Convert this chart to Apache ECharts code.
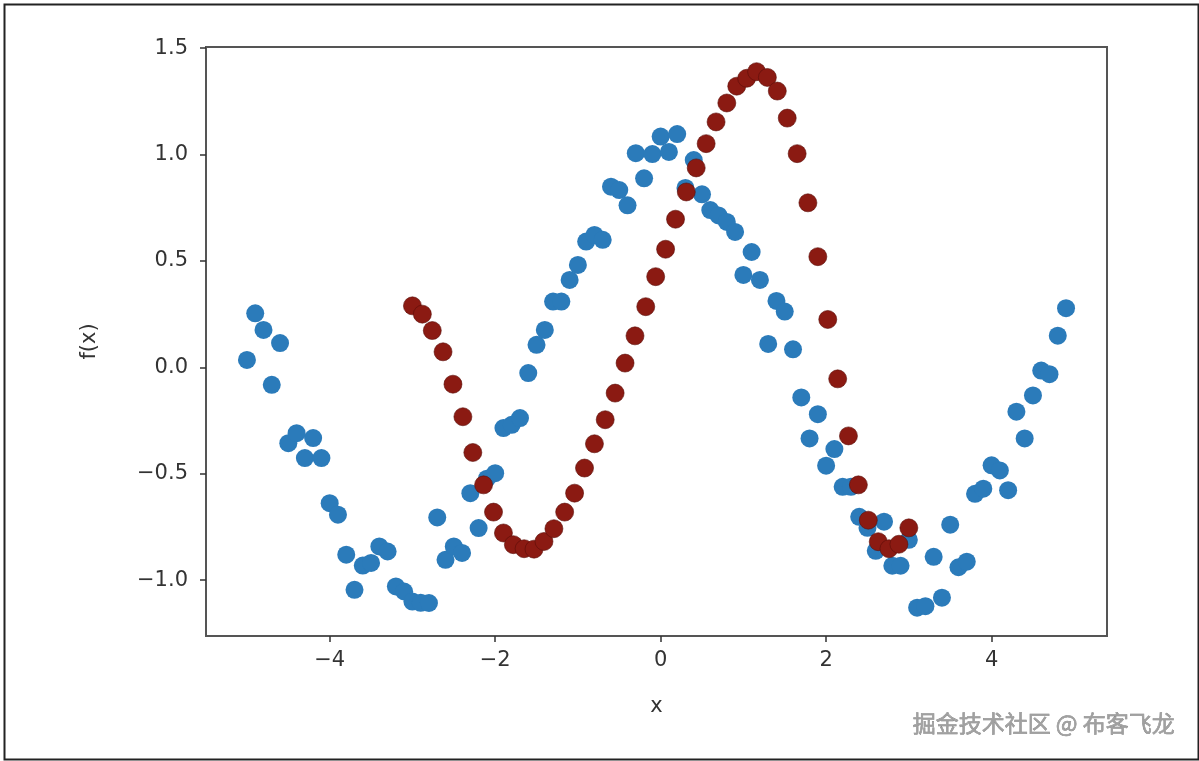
<!DOCTYPE html>
<html>
<head>
<meta charset="utf-8">
<script src="https://cdn.jsdelivr.net/npm/echarts@6/dist/echarts.min.js"></script>
<style>
  html, body { margin: 0; padding: 0; background: #fff; }
  #chart { width: 1199px; height: 761px; }
</style>
</head>
<body>
<div id="chart"></div>
<script>
// Noisy samples (blue)
const blueX = [-5.0,-4.9,-4.8,-4.7,-4.6,-4.5,-4.4,-4.3,-4.2,-4.1,
  -4.0,-3.9,-3.8,-3.7,-3.6,-3.5,-3.4,-3.3,-3.2,-3.1,
  -3.0,-2.9,-2.8,-2.7,-2.6,-2.5,-2.4,-2.3,-2.2,-2.1,
  -2.0,-1.9,-1.8,-1.7,-1.6,-1.5,-1.4,-1.3,-1.2,-1.1,
  -1.0,-0.9,-0.8,-0.7,-0.6,-0.5,-0.4,-0.3,-0.2,-0.1,
  0.0,0.1,0.2,0.3,0.4,0.5,0.6,0.7,0.8,0.9,
  1.0,1.1,1.2,1.3,1.4,1.5,1.6,1.7,1.8,1.9,
  2.0,2.1,2.2,2.3,2.4,2.5,2.6,2.7,2.8,2.9,
  3.0,3.1,3.2,3.3,3.4,3.5,3.6,3.7,3.8,3.9,
  4.0,4.1,4.2,4.3,4.4,4.5,4.6,4.7,4.8,4.9];
const blueY = [0.035,0.254,0.176,-0.082,0.114,-0.356,-0.309,-0.426,-0.332,-0.426,
  -0.638,-0.692,-0.880,-1.045,-0.931,-0.919,-0.841,-0.865,-1.029,-1.053,
  -1.100,-1.106,-1.107,-0.705,-0.904,-0.841,-0.872,-0.591,-0.755,-0.523,
  -0.497,-0.285,-0.270,-0.238,-0.027,0.106,0.176,0.309,0.309,0.411,
  0.481,0.591,0.622,0.599,0.849,0.833,0.761,1.006,0.888,1.002,
  1.084,1.012,1.096,0.843,0.974,0.813,0.739,0.714,0.683,0.636,
  0.434,0.542,0.411,0.110,0.312,0.262,0.085,-0.141,-0.334,-0.220,
  -0.462,-0.384,-0.561,-0.561,-0.702,-0.754,-0.862,-0.725,-0.932,-0.932,
  -0.810,-1.129,-1.122,-0.890,-1.082,-0.739,-0.939,-0.913,-0.594,-0.570,
  -0.460,-0.484,-0.577,-0.208,-0.334,-0.132,-0.015,-0.032,0.149,0.278];

// Model predictions (dark red)
const redX = [-3.00,-2.88,-2.76,-2.63,-2.51,-2.39,-2.27,-2.14,-2.02,-1.90,
  -1.78,-1.65,-1.53,-1.41,-1.29,-1.16,-1.04,-0.92,-0.80,-0.67,
  -0.55,-0.43,-0.31,-0.18,-0.06,0.06,0.18,0.31,0.43,0.55,
  0.67,0.80,0.92,1.04,1.16,1.29,1.41,1.53,1.65,1.78,
  1.90,2.02,2.14,2.27,2.39,2.51,2.63,2.76,2.88,3.00];
const redY = [0.289,0.250,0.173,0.073,-0.079,-0.232,-0.400,-0.552,-0.680,-0.778,
  -0.833,-0.852,-0.854,-0.818,-0.758,-0.680,-0.591,-0.473,-0.359,-0.246,
  -0.121,0.020,0.148,0.285,0.426,0.555,0.696,0.824,0.937,1.051,
  1.153,1.242,1.321,1.358,1.389,1.362,1.298,1.171,1.004,0.773,
  0.520,0.225,-0.054,-0.322,-0.552,-0.718,-0.819,-0.852,-0.831,-0.754];

const xTicks = [-4, -2, 0, 2, 4];
const yTicks = [-1.0, -0.5, 0.0, 0.5, 1.0, 1.5];

const blueData = blueX.map((x, i) => [x, blueY[i]]);
const redData = redX.map((x, i) => [x, redY[i]]);

const fmtX = v => (v < 0 ? '\u2212' + Math.abs(v) : String(v));
const fmtY = v => (v < 0 ? '\u2212' + Math.abs(v).toFixed(1) : v.toFixed(1));
const FONT = 'DejaVu Sans';

const chart = echarts.init(document.getElementById('chart'), null, { renderer: 'canvas' });
chart.setOption({
  backgroundColor: '#ffffff',
  animation: false,
  grid: {
    left: 206, top: 47, right: 92, bottom: 125,
    show: true, borderColor: '#555', borderWidth: 2, backgroundColor: 'transparent'
  },
  xAxis: {
    type: 'value',
    min: -5.495, max: 5.395,
    position: 'bottom',
    name: 'x', nameLocation: 'middle', nameGap: 60,
    nameTextStyle: { fontFamily: FONT, fontSize: 21, color: '#333' },
    axisLine: { show: false, onZero: false },
    splitLine: { show: false },
    axisTick: { show: true, inside: false, length: 6, customValues: xTicks, lineStyle: { color: '#333', width: 1.5 } },
    axisLabel: { customValues: xTicks, formatter: fmtX, fontFamily: FONT, fontSize: 21, color: '#333', margin: 14 }
  },
  yAxis: {
    type: 'value',
    min: -1.262, max: 1.505,
    position: 'left',
    name: 'f(x)', nameLocation: 'middle', nameGap: 106, nameRotate: 90,
    nameTextStyle: { fontFamily: FONT, fontSize: 21, color: '#333' },
    axisLine: { show: false, onZero: false },
    splitLine: { show: false },
    axisTick: { show: true, inside: false, length: 6, customValues: yTicks, lineStyle: { color: '#333', width: 1.5 } },
    axisLabel: { customValues: yTicks, formatter: fmtY, fontFamily: FONT, fontSize: 21, color: '#333', margin: 18 }
  },
  series: [
    {
      type: 'scatter', data: blueData, symbolSize: 18,
      itemStyle: { color: '#2b7bba', opacity: 1 }, z: 2
    },
    {
      type: 'scatter', data: redData, symbolSize: 18,
      itemStyle: { color: '#8b1a12', opacity: 1, borderColor: '#5a0d08', borderWidth: 0.6 }, z: 3
    }
  ],
  graphic: [
    {
      type: 'rect', left: 2, top: 2, z: 100, silent: true,
      shape: { width: 1194, height: 755 },
      style: { fill: 'none', stroke: '#222', lineWidth: 2 }
    },
    {
      type: 'text', right: 24, top: 712, z: 100, silent: true,
      style: {
        text: '掘金技术社区 @ 布客飞龙',
        fontFamily: 'Noto Sans CJK SC', fontSize: 23,
        fill: '#a0a0a0', stroke: '#707070', lineWidth: 0.5
      }
    }
  ]
});
</script>
</body>
</html>
